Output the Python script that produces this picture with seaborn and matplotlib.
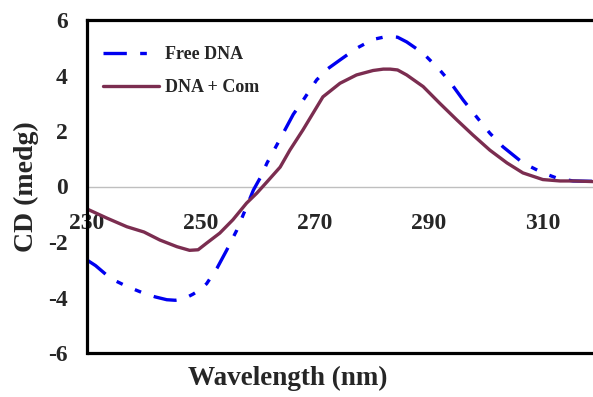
import matplotlib

matplotlib.use("Agg")
import matplotlib.pyplot as plt
import numpy as np
import seaborn as sns

# wavelength (nm) / CD (mdeg)
free_wl = [230, 231.5, 233.5, 235, 237, 240, 242, 244, 245.5, 247, 248.6, 250, 251,
           252.8, 254.5, 256.3, 258, 259.2, 260.5, 261.6, 263.8, 266.2, 267.9,
           270.3, 272.3, 274.4, 277.3, 280.2, 282, 283.2, 284.5, 286.1, 289,
           291.9, 293.7, 296, 298.4, 300.7, 303, 306.5, 310, 312.5, 315.3, 320]
free_cd = [-2.65, -2.85, -3.2, -3.4, -3.6, -3.85, -3.98, -4.08, -4.1, -4.05,
           -3.88, -3.7, -3.5, -2.95, -2.3, -1.57, -0.73, -0.13, 0.35, 0.85,
           1.68, 2.6, 3.1, 3.84, 4.25, 4.56, 4.98, 5.3, 5.38, 5.4, 5.38, 5.21,
           4.8, 4.2, 3.77, 3.12, 2.5, 1.92, 1.43, 0.85, 0.49, 0.3, 0.2, 0.18]

com_wl = [230, 233.5, 237, 240, 242.8, 245.8, 248, 249.5, 251, 253.3, 255.6,
          258, 259.8, 261.6, 263.9, 265.6, 267.9, 271.4, 274.4, 277.3, 280.2,
          282, 283.2, 284.5, 286.1, 289, 291.9, 294.9, 297.7, 300.7, 303.7,
          306.5, 310, 313, 315.3, 320]
com_cd = [-0.81, -1.14, -1.45, -1.64, -1.93, -2.17, -2.3, -2.28, -2.04, -1.68,
          -1.2, -0.6, -0.24, 0.17, 0.7, 1.31, 2.04, 3.23, 3.72, 4.02, 4.18,
          4.23, 4.23, 4.2, 4.02, 3.6, 3.0, 2.4, 1.86, 1.31, 0.85, 0.49, 0.25,
          0.2, 0.2, 0.17]

labels = ["Free DNA", "DNA + Com"]
x_ticks = [230, 250, 270, 290, 310]
y_ticks = [-6, -4, -2, 0, 2, 4, 6]

sns.set_style("white")
plt.rcParams["font.family"] = ["Liberation Serif", "DejaVu Serif"]
plt.rcParams["font.weight"] = "bold"
plt.rcParams["axes.unicode_minus"] = False

fig = plt.figure(figsize=(5.93, 3.97), dpi=100)
ax = fig.add_axes([87 / 593, 44 / 397, 1 - 87 / 593, 333 / 397])

sns.lineplot(x=free_wl, y=free_cd, ax=ax, color="#0000f0", lw=2.4,
             linestyle=(0, (7, 4, 2, 4, 2, 4)), label=labels[0], sort=False)
sns.lineplot(x=com_wl, y=com_cd, ax=ax, color="#7b2d50", lw=2.4,
             label=labels[1], sort=False)

ax.set_xlim(230, 318.8)
ax.set_ylim(-6, 6)
ax.set_xticks(x_ticks)
ax.set_yticks(y_ticks)

# excel-style: category axis crosses at zero, black frame around the plot
ax.spines["bottom"].set_position(("data", 0))
ax.spines["bottom"].set_color("#bfbfbf")
ax.spines["bottom"].set_linewidth(1)
ax.spines["bottom"].set_zorder(0)
ax.spines["right"].set_visible(False)
for s in ("left", "top"):
    ax.spines[s].set_color("black")
    ax.spines[s].set_linewidth(2.3)
ax.axhline(-6, color="black", lw=2.3, clip_on=False, zorder=5)

ax.tick_params(axis="x", direction="out", length=5, width=1, color="#bfbfbf",
               pad=14, labelsize=17)
ax.tick_params(axis="y", direction="out", length=6, width=1, color="#bfbfbf",
               pad=8, labelsize=17)
for t in ax.get_xticklabels() + ax.get_yticklabels():
    t.set_fontweight("bold")

ax.set_xlabel("Wavelength (nm)", fontsize=19.5, fontweight="bold")
ax.xaxis.set_label_coords((288 - 87) / (593 - 87), -0.04)
ax.set_ylabel("CD (medg)", fontsize=20, fontweight="bold", labelpad=6)

ax.legend(loc="upper left", bbox_to_anchor=(0.0, 0.97), frameon=False,
          handlelength=3.1, handletextpad=0.3, labelspacing=0.9,
          prop={"size": 13, "weight": "bold"})

fig.savefig("out.png", dpi=100)
